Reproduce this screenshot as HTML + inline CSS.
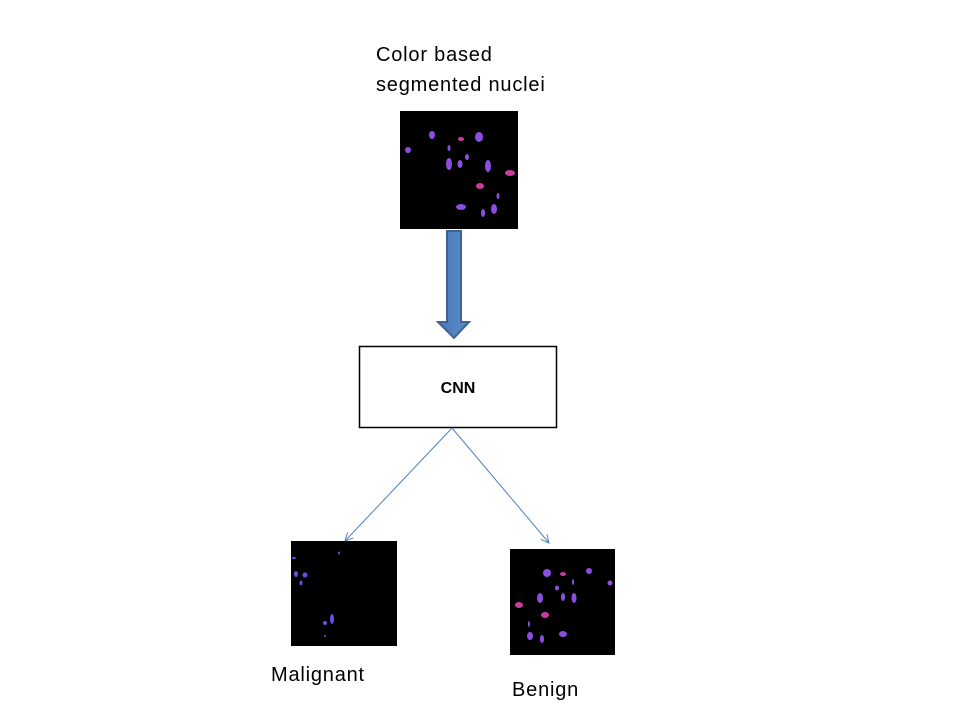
<!DOCTYPE html>
<html><head><meta charset="utf-8"><style>
html,body{margin:0;padding:0;background:#fff;}
body{width:960px;height:720px;position:relative;overflow:hidden;font-family:"Liberation Sans",sans-serif;}
.t{position:absolute;font-size:20px;letter-spacing:0.8px;color:#000;line-height:30px;white-space:nowrap;}
</style></head><body>
<div class="t" style="left:376px;top:40px;">Color based<br>segmented nuclei</div>
<div class="t" style="left:271px;top:660px;">Malignant</div>
<div class="t" style="left:512px;top:675px;">Benign</div>
<svg width="960" height="720" style="position:absolute;left:0;top:0">
<defs><linearGradient id="g" x1="0" x2="1"><stop offset="0" stop-color="#4a78b8"/><stop offset="1" stop-color="#5b8bcb"/></linearGradient>
<marker id="ah" markerWidth="10" markerHeight="10" refX="9" refY="5" orient="auto" markerUnits="userSpaceOnUse"><path d="M1,1 L9,5 L1,9" fill="none" stroke="#4f81bd" stroke-width="1"/></marker></defs>
<g>
<rect x="400" y="111" width="118" height="118" fill="#000"/>
<g fill="#8a4fe0">
<ellipse cx="408" cy="150" rx="3" ry="3"/><ellipse cx="432" cy="135" rx="3" ry="4"/>
<ellipse cx="461" cy="139" rx="3" ry="2" fill="#d03c9c"/><ellipse cx="479" cy="137" rx="4" ry="5"/>
<ellipse cx="449" cy="148" rx="1.5" ry="3"/><ellipse cx="449" cy="164" rx="3" ry="6"/>
<ellipse cx="460" cy="164" rx="2.5" ry="4"/><ellipse cx="467" cy="157" rx="2" ry="3"/>
<ellipse cx="488" cy="166" rx="3" ry="6"/><ellipse cx="510" cy="173" rx="5" ry="3" fill="#c83ca0"/>
<ellipse cx="480" cy="186" rx="4" ry="3" fill="#c83ca0"/><ellipse cx="498" cy="196" rx="1.5" ry="3"/>
<ellipse cx="461" cy="207" rx="5" ry="3"/><ellipse cx="483" cy="213" rx="2" ry="4"/><ellipse cx="494" cy="209" rx="3" ry="5"/>
</g></g>
<path d="M447,231 H461 V322 H469 L454,338 L438,322 H447 Z" fill="url(#g)" stroke="#3a6397" stroke-width="2"/>
<rect x="359.5" y="346.5" width="197" height="81" fill="#fff" stroke="#000" stroke-width="1.5"/>
<text x="458" y="393" font-family="Liberation Sans, sans-serif" font-size="16" font-weight="bold" text-anchor="middle">CNN</text>
<line x1="452" y1="428" x2="345" y2="541" stroke="#4f81bd" marker-end="url(#ah)"/>
<line x1="452" y1="428" x2="549" y2="543" stroke="#4f81bd" marker-end="url(#ah)"/>
<g>
<rect x="291" y="541" width="106" height="105" fill="#000"/>
<g fill="#6a4de8"><ellipse cx="294" cy="558" rx="2" ry="1"/><ellipse cx="339" cy="553" rx="1" ry="1.5"/>
<ellipse cx="296" cy="574" rx="2" ry="3"/><ellipse cx="305" cy="575" rx="2.5" ry="2.5"/><ellipse cx="301" cy="583" rx="1.5" ry="2.5"/>
<ellipse cx="332" cy="619" rx="2" ry="5"/><ellipse cx="325" cy="623" rx="2" ry="2"/><ellipse cx="325" cy="636" rx="1" ry="1"/></g></g>
<g>
<rect x="510" y="549" width="105" height="106" fill="#000"/>
<g fill="#8a4fe0"><ellipse cx="547" cy="573" rx="4" ry="4"/><ellipse cx="563" cy="574" rx="3" ry="2" fill="#c83ca0"/>
<ellipse cx="589" cy="571" rx="3" ry="3"/><ellipse cx="610" cy="583" rx="2.5" ry="2.5"/><ellipse cx="573" cy="582" rx="1" ry="3"/>
<ellipse cx="557" cy="588" rx="2" ry="2.5"/><ellipse cx="540" cy="598" rx="3" ry="5"/><ellipse cx="563" cy="597" rx="2" ry="4"/>
<ellipse cx="574" cy="598" rx="2.5" ry="5"/><ellipse cx="519" cy="605" rx="4" ry="3" fill="#c83ca0"/>
<ellipse cx="545" cy="615" rx="4" ry="3" fill="#c83ca0"/><ellipse cx="529" cy="624" rx="1" ry="3"/>
<ellipse cx="563" cy="634" rx="4" ry="3"/><ellipse cx="530" cy="636" rx="3" ry="4"/><ellipse cx="542" cy="639" rx="2" ry="4"/></g></g>
</svg>
</body></html>
